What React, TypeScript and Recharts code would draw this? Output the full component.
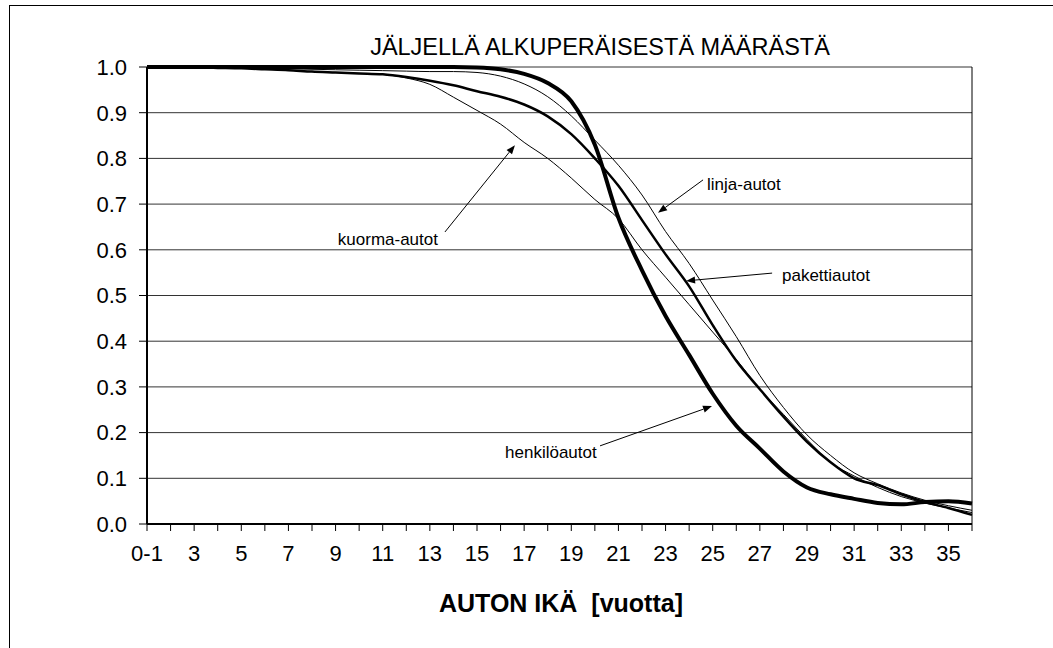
import React from 'react';
import { LineChart, Line, XAxis, YAxis, CartesianGrid, ReferenceLine, ReferenceDot } from 'recharts';

const ages = ['0-1','2','3','4','5','6','7','8','9','10','11','12','13','14','15','16','17','18','19','20','21','22','23','24','25','26','27','28','29','30','31','32','33','34','35','36'];

const henkiloautot = [1,1,1,1,1,1,1,1,1,1,1,1,1,1,0.999,0.995,0.985,0.965,0.925,0.83,0.67,0.555,0.455,0.37,0.285,0.215,0.165,0.115,0.08,0.065,0.055,0.046,0.043,0.048,0.05,0.045];
const pakettiautot = [1,1,0.999,0.998,0.997,0.995,0.993,0.99,0.988,0.986,0.984,0.978,0.97,0.96,0.947,0.935,0.918,0.892,0.853,0.8,0.74,0.665,0.59,0.52,0.435,0.357,0.295,0.235,0.18,0.135,0.1,0.085,0.065,0.048,0.035,0.02];
const kuormaAutot = [1,1,0.999,0.998,0.997,0.995,0.993,0.99,0.988,0.986,0.984,0.976,0.962,0.934,0.905,0.875,0.835,0.8,0.757,0.71,0.668,0.6,0.54,0.48,0.42,0.36,0.295,0.24,0.185,0.135,0.105,0.08,0.06,0.046,0.035,0.025];
const linjaAutot = [1,1,1,0.999,0.998,0.997,0.996,0.995,0.994,0.993,0.992,0.991,0.99,0.99,0.988,0.98,0.963,0.935,0.893,0.84,0.785,0.72,0.64,0.57,0.49,0.41,0.325,0.255,0.195,0.15,0.112,0.088,0.068,0.052,0.04,0.03];

const yTicks = [0,0.1,0.2,0.3,0.4,0.5,0.6,0.7,0.8,0.9,1.0];

const title = 'JÄLJELLÄ ALKUPERÄISESTÄ MÄÄRÄSTÄ';
const xTitle = 'AUTON IKÄ  [vuotta]';

// annotations: label text, label anchor point, arrow tail, arrow tip (data coordinates)
const annLabels = ['kuorma-autot','linja-autot','pakettiautot','henkilöautot'];
const annAnchors = ['middle','start','start','start'];
const annTextPos = [[10.22,0.611],[23.76,0.731],[26.94,0.532],[15.19,0.144]];
const annTail = [[12.64,0.639],[23.59,0.753],[26.52,0.549],[19.22,0.171]];
const annTip = [[15.61,0.829],[21.68,0.681],[22.87,0.532],[23.97,0.258]];

const data = ages.map((a, i) => ({
  i,
  age: a,
  henkilo: henkiloautot[i],
  paketti: pakettiautot[i],
  kuorma: kuormaAutot[i],
  linja: linjaAutot[i],
}));

const FONT = '"Liberation Sans", Arial, sans-serif';

const Arrow = (props: any) => {
  const { x1, y1, x2, y2 } = props;
  const dx = x2 - x1, dy = y2 - y1;
  const len = Math.hypot(dx, dy) || 1;
  const ux = dx / len, uy = dy / len;
  const L = 9, W = 3.5;
  const bx = x2 - ux * L, by = y2 - uy * L;
  return (
    <g>
      <line x1={x1} y1={y1} x2={bx} y2={by} stroke="#000" strokeWidth={1} />
      <polygon points={`${x2},${y2} ${bx - uy * W},${by + ux * W} ${bx + uy * W},${by - ux * W}`} fill="#000" />
    </g>
  );
};

export default function App() {
  return (
    <div style={{ position: 'absolute', left: 0, top: 0, width: 1053, height: 648, overflow: 'hidden', background: '#fff' }}>
      <div style={{ position: 'absolute', left: 9, top: 5, width: 1100, height: 700, border: '1px solid #000', boxSizing: 'border-box' }} />
      <div style={{ position: 'absolute', left: 0, top: 0 }}>
        <LineChart width={1053} height={648} data={data} margin={{ top: 67, right: 81, bottom: 84, left: 0 }}>
          <CartesianGrid vertical={false} stroke="#333" strokeWidth={1} />
          <XAxis
            dataKey="i"
            type="number"
            domain={[0, 35]}
            ticks={ages.map((_, i) => i)}
            interval={0}
            tickFormatter={(v: number) => (v % 2 === 0 ? ages[v] : '')}
            height={40}
            tickSize={7}
            tickMargin={14}
            axisLine={{ stroke: '#000', strokeWidth: 2 }}
            tickLine={{ stroke: '#000', strokeWidth: 1 }}
            tick={{ fontSize: 22, fill: '#000', fontFamily: FONT }}
          />
          <YAxis
            domain={[0, 1]}
            ticks={yTicks}
            interval={0}
            tickFormatter={(v: number) => v.toFixed(1)}
            width={147}
            tickSize={8}
            tickMargin={12}
            axisLine={{ stroke: '#000', strokeWidth: 2 }}
            tickLine={{ stroke: '#000', strokeWidth: 1 }}
            tick={{ fontSize: 22, fill: '#000', fontFamily: FONT }}
          />
          <ReferenceLine x={35} stroke="#000" strokeWidth={1} />
          <Line dataKey="linja" type="monotone" stroke="#000" strokeWidth={1} dot={false} isAnimationActive={false} />
          <Line dataKey="kuorma" type="monotone" stroke="#000" strokeWidth={1} dot={false} isAnimationActive={false} />
          <Line dataKey="paketti" type="monotone" stroke="#000" strokeWidth={2.5} dot={false} isAnimationActive={false} />
          <Line dataKey="henkilo" type="monotone" stroke="#000" strokeWidth={4} dot={false} isAnimationActive={false} />
          {annLabels.map((lbl, k) => (
            <ReferenceLine
              key={'a' + k}
              segment={[{ x: annTail[k][0], y: annTail[k][1] }, { x: annTip[k][0], y: annTip[k][1] }]}
              shape={Arrow}
            />
          ))}
          {annLabels.map((lbl, k) => (
            <ReferenceDot
              key={'t' + k}
              x={annTextPos[k][0]}
              y={annTextPos[k][1]}
              shape={(p: any) => (
                <text x={p.cx} y={p.cy} textAnchor={annAnchors[k] as any} fontSize={17} fontFamily={FONT} fill="#000">{lbl}</text>
              )}
            />
          ))}
        </LineChart>
      </div>
      <svg width={1053} height={648} style={{ position: 'absolute', left: 0, top: 0, pointerEvents: 'none' }}>
        <text x={600} y={55} textAnchor="middle" fontSize={23.5} fontFamily={FONT} fill="#000">{title}</text>
        <text x={561} y={612} textAnchor="middle" fontSize={25} fontWeight="bold" fontFamily={FONT} fill="#000" style={{ whiteSpace: 'pre' }}>{xTitle}</text>
      </svg>
    </div>
  );
}
